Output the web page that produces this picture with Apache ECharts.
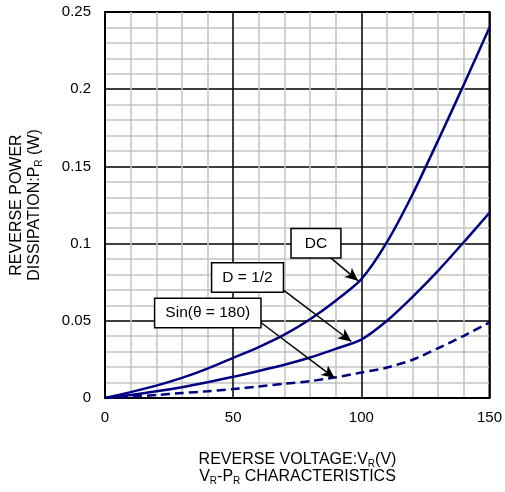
<!DOCTYPE html>
<html><head><meta charset="utf-8">
<script src="https://cdn.jsdelivr.net/npm/echarts@6/dist/echarts.min.js"></script>
<style>html,body{margin:0;padding:0;background:#fff}#c{width:505px;height:492px}</style>
</head><body><div id="c"></div>
<script>
// ---- data ----
const voltage = [0,10,20,30,40,50,60,70,80,90,100,110,120,130,140,150];
const dcPower = [0,0.0038,0.008,0.013,0.019,0.026,0.033,0.041,0.051,0.063,0.077,0.101,0.132,0.167,0.203,0.240];
const halfDutyPower = [0,0.002,0.0043,0.007,0.0102,0.0137,0.0175,0.0215,0.0262,0.0318,0.0378,0.050,0.0655,0.0825,0.101,0.120];
const sinePower = [0,0.0009,0.0019,0.0032,0.0044,0.0058,0.0075,0.0092,0.0109,0.0134,0.0165,0.0197,0.0248,0.0323,0.0403,0.049];
const xTicks = [0,50,100,150];
const yTicks = [0,0.05,0.1,0.15,0.2,0.25];
const seriesNames = ['DC','D = 1/2','Sin(θ = 180)'];
// annotation anchors in data coordinates: label box centre, arrow start, arrow tip
const boxAnchors = [[82.3,0.1002],[55.6,0.0781],[40.1,0.0550]];
const arrowFrom = [[87.7,0.0912],[69.5,0.070],[60.8,0.0489]];
const arrowTo = [[98.7,0.0760],[96.1,0.0366],[89.6,0.0129]];

// ---- styling ----
const boxPad = [13,10,10];
const FONT = '"Liberation Sans", Arial, sans-serif';
const lineColor = '#000080';

const chart = echarts.init(document.getElementById('c'), null, {renderer:'canvas'});
const zip = (ys) => voltage.map((v,i)=>[v, ys[i]]);
const arrowML = (i) => ({
  silent:true, symbol:['none','arrow'], symbolSize:[9,13],
  label:{show:false}, emphasis:{disabled:true},
  lineStyle:{color:'#000', width:1.5, type:'solid'},
  data:[[{coord:arrowFrom[i]},{coord:arrowTo[i]}]]
});
const mkSeries = (name, ys, i, dashed) => ({
  name, type:'line', data:zip(ys), smooth:0.25, showSymbol:false, symbol:'none',
  lineStyle:{color:lineColor, width:2.5, type: dashed ? [9,5] : 'solid'},
  itemStyle:{color:lineColor}, z:3, silent:true,
  markLine: arrowML(i)
});

chart.setOption({
  animation:false,
  backgroundColor:'#fff',
  grid:{left:105, top:12, width:385, height:386, show:true, borderColor:'#000', borderWidth:2, backgroundColor:'transparent'},
  xAxis:{
    type:'value', min:xTicks[0], max:xTicks[xTicks.length-1], interval:xTicks[1]-xTicks[0],
    axisLine:{show:true, onZero:false, lineStyle:{color:'#000', width:2}},
    axisTick:{show:false},
    axisLabel:{color:'#000', fontFamily:FONT, fontSize:15, margin:12},
    splitLine:{show:true, lineStyle:{color:'#000', width:1.5}},
    minorTick:{show:false, splitNumber:5},
    minorSplitLine:{show:true, lineStyle:{color:'#c4c4c4', width:1.5}}
  },
  yAxis:{
    type:'value', min:yTicks[0], max:yTicks[yTicks.length-1], interval:yTicks[1]-yTicks[0],
    axisLine:{show:true, onZero:false, lineStyle:{color:'#000', width:2}},
    axisTick:{show:false},
    axisLabel:{color:'#000', fontFamily:FONT, fontSize:15, margin:14},
    splitLine:{show:true, lineStyle:{color:'#000', width:1.5}},
    minorTick:{show:false, splitNumber:5},
    minorSplitLine:{show:true, lineStyle:{color:'#c4c4c4', width:1.5}}
  },
  series:[
    mkSeries(seriesNames[0], dcPower, 0, false),
    mkSeries(seriesNames[1], halfDutyPower, 1, false),
    mkSeries(seriesNames[2], sinePower, 2, true)
  ]
});

const rich = {
  n:{fontFamily:FONT, fontSize:16, color:'#000', lineHeight:18},
  s:{fontFamily:FONT, fontSize:10, color:'#000', lineHeight:10, verticalAlign:'bottom'}
};
const gridCx = 105 + 385/2;
const gridCy = 12 + 386/2;
const graphics = [
  {type:'text', x:gridCx, y:460, z:10, style:{text:'{n|REVERSE VOLTAGE:V}{s|R}{n|(V)}', rich, align:'center', verticalAlign:'middle'}},
  {type:'text', x:gridCx, y:477, z:10, style:{text:'{n|V}{s|R}{n|-P}{s|R}{n| CHARACTERISTICS}', rich, align:'center', verticalAlign:'middle'}},
  {type:'text', x:26, y:gridCy, rotation:Math.PI/2, z:10, style:{text:'{n|REVERSE POWER}\n{n|DISSIPATION:P}{s|R}{n| (W)}', rich, align:'center', verticalAlign:'middle'}}
];
boxAnchors.forEach((b,i)=>{
  const p = chart.convertToPixel({gridIndex:0}, b);
  graphics.push({type:'text', x:p[0], y:p[1], z:20, style:{
    text:seriesNames[i], font:'15.5px '+FONT, fill:'#000',
    backgroundColor:'#fff', borderColor:'#000', borderWidth:1.5,
    padding:[5, boxPad[i]], align:'center', verticalAlign:'middle', lineHeight:18
  }});
});
chart.setOption({graphic:graphics});
</script>
</body></html>
